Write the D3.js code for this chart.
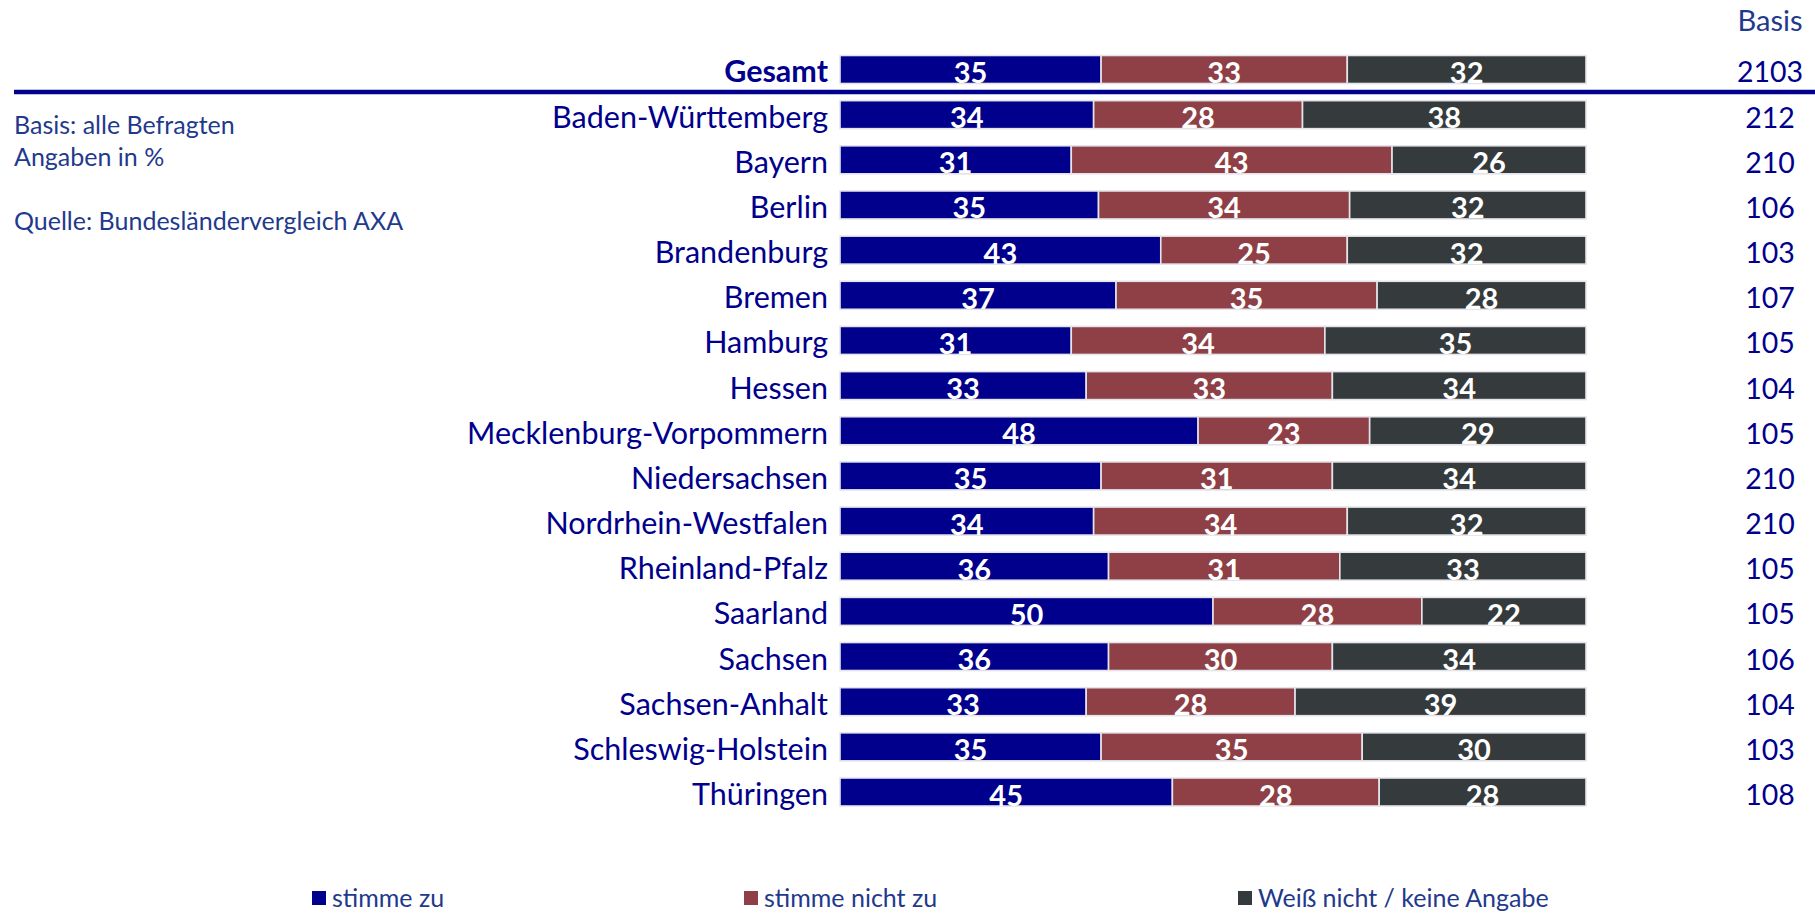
<!DOCTYPE html>
<html>
<head>
<meta charset="utf-8">
<script src="https://cdn.jsdelivr.net/npm/d3@7"></script>
<style>
  html, body { margin: 0; padding: 0; background: #fff; }
  svg { display: block; }
  text { font-family: Lato, "Noto Sans", sans-serif; }
</style>
</head>
<body>
<svg id="chart" width="1815" height="913"></svg>
<script>
const categories = ["Gesamt","Baden-Württemberg","Bayern","Berlin","Brandenburg","Bremen","Hamburg","Hessen","Mecklenburg-Vorpommern","Niedersachsen","Nordrhein-Westfalen","Rheinland-Pfalz","Saarland","Sachsen","Sachsen-Anhalt","Schleswig-Holstein","Thüringen"];
const stimmeZu      = [35,34,31,35,43,37,31,33,48,35,34,36,50,36,33,35,45];
const stimmeNichtZu = [33,28,43,34,25,35,34,33,23,31,34,31,28,30,28,35,28];
const weissNicht    = [32,38,26,32,32,28,35,34,29,34,32,33,22,34,39,30,28];
const basis         = [2103,212,210,106,103,107,105,104,105,210,210,105,105,106,104,103,108];
const seriesNames   = ["stimme zu","stimme nicht zu","Weiß nicht / keine Angabe"];
const seriesColors  = ["#00008c","#8e4046","#353b3c"];
const notes = ["Basis: alle Befragten","Angaben in %","","Quelle:  Bundesländervergleich AXA"];

const svg = d3.select("#chart");
const navy = "#00008c";
const noteColor = "#1f3a8c";

const y = d3.scaleBand().domain(categories).range([55.5, 806]).paddingInner(0.38).paddingOuter(0);
const x = d3.scaleLinear().domain([0, 1]).range([840, 1586]);

const rows = categories.map((c, i) => {
  const vals = [stimmeZu[i], stimmeNichtZu[i], weissNicht[i]];
  const total = d3.sum(vals);
  let acc = 0;
  const segs = vals.map((v, k) => {
    const s = { cat: c, k, v, x0: acc / total, x1: (acc + v) / total };
    acc += v;
    return s;
  });
  return { cat: c, i, segs, basis: basis[i] };
});

// separator line under Gesamt
const sepY = (y("Gesamt") + y.bandwidth() + y(categories[1])) / 2;
svg.append("line")
  .attr("x1", 14).attr("x2", 1815)
  .attr("y1", sepY).attr("y2", sepY)
  .attr("stroke", navy).attr("stroke-width", 4.5);

const g = svg.append("g");
const rowG = g.selectAll("g.row").data(rows).join("g").attr("class", "row");

rowG.selectAll("rect").data(d => d.segs).join("rect")
  .attr("x", d => x(d.x0))
  .attr("y", d => y(d.cat))
  .attr("width", d => x(d.x1) - x(d.x0))
  .attr("height", y.bandwidth())
  .attr("fill", d => seriesColors[d.k])
  .attr("stroke", "#e4e4ea")
  .attr("stroke-width", 1.6);

rowG.selectAll("text.val").data(d => d.segs).join("text")
  .attr("class", "val")
  .attr("x", d => (x(d.x0) + x(d.x1)) / 2)
  .attr("y", d => y(d.cat) + y.bandwidth() - 0.5)
  .attr("text-anchor", "middle")
  .attr("fill", "#fff")
  .attr("font-weight", "bold")
  .attr("font-size", 29)
  .text(d => d.v);

// category labels
g.selectAll("text.cat").data(rows).join("text")
  .attr("class", "cat")
  .attr("x", 828)
  .attr("y", d => y(d.cat) + y.bandwidth() - 1)
  .attr("text-anchor", "end")
  .attr("fill", navy)
  .attr("font-size", 30.5)
  .attr("font-weight", d => d.i === 0 ? "bold" : "normal")
  .text(d => d.cat);

// basis column
svg.append("text")
  .attr("x", 1770).attr("y", 31)
  .attr("text-anchor", "middle")
  .attr("fill", noteColor)
  .attr("font-size", 29)
  .text("Basis");

g.selectAll("text.basis").data(rows).join("text")
  .attr("class", "basis")
  .attr("x", 1770)
  .attr("y", d => y(d.cat) + y.bandwidth() - 1)
  .attr("text-anchor", "middle")
  .attr("fill", navy)
  .attr("font-size", 28.5)
  .text(d => d.basis);

// notes
svg.selectAll("text.note").data(notes).join("text")
  .attr("class", "note")
  .attr("x", 14)
  .attr("y", (d, i) => 134 + i * 32)
  .attr("fill", noteColor)
  .attr("font-size", 25)
  .text(d => d);

// legend
const legendX = [312, 744, 1238];
const leg = svg.selectAll("g.leg").data(seriesNames).join("g").attr("class", "leg")
  .attr("transform", (d, i) => `translate(${legendX[i]},0)`);
leg.append("rect")
  .attr("x", 0).attr("y", 891).attr("width", 14).attr("height", 14)
  .attr("fill", (d, i) => seriesColors[i]);
leg.append("text")
  .attr("x", 20).attr("y", 907)
  .attr("fill", noteColor)
  .attr("font-size", 25)
  .text(d => d);
</script>
</body>
</html>
